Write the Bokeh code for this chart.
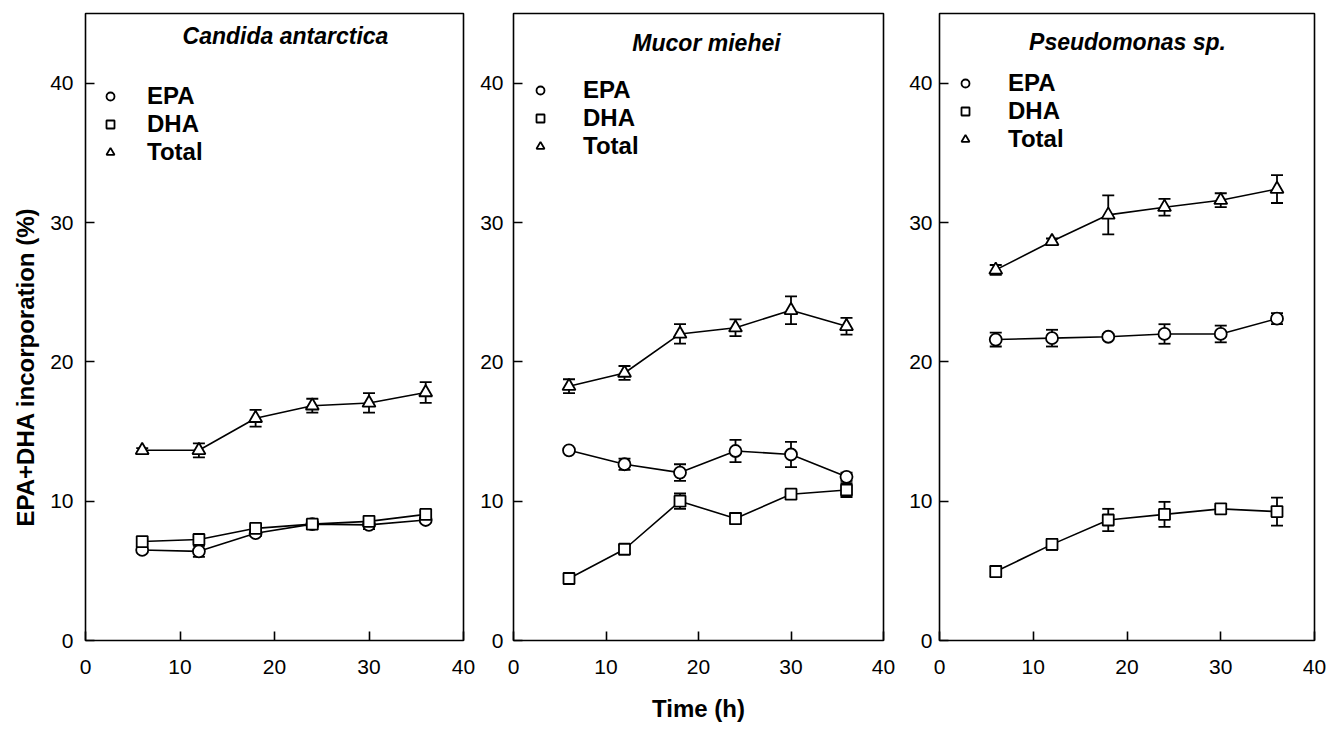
import math
from bokeh.plotting import figure
from bokeh.models import (ColumnDataSource, Whisker, TeeHead, Legend, LegendItem,
                          Label, FixedTicker, Range1d, Title)
from bokeh.layouts import row
from bokeh.embed import file_html
from bokeh.resources import INLINE

# ---------------- data ----------------
time_h = [6, 12, 18, 24, 30, 36]
panel_titles = ["Candida antarctica", "Mucor miehei", "Pseudomonas sp."]
series_names = ["EPA", "DHA", "Total"]
tick_values = [0, 10, 20, 30, 40]
x_label = "Time (h)"
y_label = "EPA+DHA incorporation (%)"

# Candida antarctica
ca_epa = [6.5, 6.4, 7.7, 8.35, 8.3, 8.65]
ca_epa_err = [0.15, 0.4, 0.2, 0.15, 0.3, 0.15]
ca_dha = [7.1, 7.25, 8.05, 8.35, 8.55, 9.05]
ca_dha_err = [0.15, 0.2, 0.15, 0.15, 0.2, 0.2]
ca_tot = [13.65, 13.65, 15.95, 16.85, 17.05, 17.8]
ca_tot_err = [0.15, 0.5, 0.6, 0.5, 0.7, 0.75]

# Mucor miehei
mm_epa = [13.65, 12.65, 12.05, 13.6, 13.35, 11.75]
mm_epa_err = [0.15, 0.4, 0.6, 0.8, 0.9, 0.3]
mm_dha = [4.45, 6.55, 10.0, 8.75, 10.5, 10.8]
mm_dha_err = [0.35, 0.3, 0.55, 0.4, 0.2, 0.5]
mm_tot = [18.25, 19.2, 22.0, 22.45, 23.7, 22.55]
mm_tot_err = [0.5, 0.5, 0.7, 0.6, 1.0, 0.6]

# Pseudomonas sp.
ps_epa = [21.6, 21.7, 21.8, 22.0, 22.0, 23.1]
ps_epa_err = [0.5, 0.6, 0.2, 0.7, 0.6, 0.4]
ps_dha = [4.95, 6.9, 8.65, 9.05, 9.45, 9.25]
ps_dha_err = [0.4, 0.4, 0.8, 0.9, 0.2, 1.0]
ps_tot = [26.6, 28.65, 30.55, 31.1, 31.6, 32.4]
ps_tot_err = [0.35, 0.2, 1.4, 0.6, 0.5, 1.0]

panel_data = [
    [(ca_epa, ca_epa_err), (ca_dha, ca_dha_err), (ca_tot, ca_tot_err)],
    [(mm_epa, mm_epa_err), (mm_dha, mm_dha_err), (mm_tot, mm_tot_err)],
    [(ps_epa, ps_epa_err), (ps_dha, ps_dha_err), (ps_tot, ps_tot_err)],
]

# ---------------- styling / layout ----------------
FONT = "Liberation Sans"
markers = ["circle", "square", "triangle"]
marker_sizes = [12, 11, 13]
TOP, FRAME_H, BOTTOM = 13, 627, 90

layout_cfg = [
    dict(left=85, frame_w=378, right=13, ystand=12,
         title_x=200, title_y=605, leg_x=15, leg_stand=27, leg_top=69),
    dict(left=37, frame_w=370, right=17, ystand=10,
         title_x=193, title_y=598, leg_x=17, leg_stand=33, leg_top=63),
    dict(left=39, frame_w=375, right=16, ystand=7,
         title_x=188, title_y=599, leg_x=16, leg_stand=33, leg_top=56),
]

figs = []
for i, (title, cfg, series) in enumerate(zip(panel_titles, layout_cfg, panel_data)):
    w = cfg["left"] + cfg["frame_w"] + cfg["right"]
    h = TOP + FRAME_H + BOTTOM
    p = figure(width=w, height=h, title=None, toolbar_location=None,
               output_backend="svg", x_range=Range1d(0, 40), y_range=Range1d(0, 45),
               min_border_left=cfg["left"], min_border_right=cfg["right"],
               min_border_top=TOP, min_border_bottom=BOTTOM)
    p.grid.visible = False
    p.outline_line_color = "black"
    p.outline_line_width = 1.6
    p.background_fill_color = "white"
    p.border_fill_color = "white"
    for ax in (p.xaxis[0], p.yaxis[0]):
        ax.ticker = FixedTicker(ticks=tick_values)
        ax.axis_line_color = None
        ax.major_tick_in = 9
        ax.major_tick_out = 0
        ax.minor_tick_line_color = None
        ax.major_tick_line_color = "black"
        ax.major_tick_line_width = 1.6
        ax.major_label_text_font = FONT
        ax.major_label_text_font_size = "21px"
        ax.major_label_text_color = "black"
    p.xaxis.major_label_standoff = 19
    p.yaxis.major_label_standoff = cfg["ystand"]

    items = []
    for j, ((vals, errs), name) in enumerate(zip(series, series_names)):
        src = ColumnDataSource(dict(
            x=time_h, y=vals,
            upper=[v + e for v, e in zip(vals, errs)],
            lower=[v - e for v, e in zip(vals, errs)]))
        p.line("x", "y", source=src, line_color="black", line_width=1.6)
        wk = Whisker(base="x", upper="upper", lower="lower", source=src,
                     line_color="black", line_width=1.8, level="underlay",
                     upper_head=TeeHead(size=12, line_color="black", line_width=1.8),
                     lower_head=TeeHead(size=12, line_color="black", line_width=1.8))
        p.add_layout(wk)
        r = p.scatter("x", "y", source=src, marker=markers[j], size=marker_sizes[j],
                      fill_color="white", line_color="black", line_width=1.8)
        items.append(LegendItem(label=name, renderers=[r]))

    leg_h = 3 * 28
    leg = Legend(items=items, location=(cfg["leg_x"], FRAME_H - cfg["leg_top"] - leg_h),
                 glyph_width=20, glyph_height=28, label_height=28, spacing=0,
                 padding=0, margin=0, label_standoff=cfg["leg_stand"],
                 border_line_color=None, background_fill_alpha=0,
                 label_text_font=FONT, label_text_font_size="24px",
                 label_text_font_style="bold", label_text_color="black")
    p.add_layout(leg)

    p.add_layout(Label(x=cfg["title_x"], y=cfg["title_y"], x_units="screen", y_units="screen",
                       text=title, text_align="center", text_baseline="middle",
                       text_font=FONT, text_font_size="23px",
                       text_font_style="bold italic", text_color="black"))
    figs.append(p)

# y axis label (left of first panel), placed lower than centre like the original
figs[0].add_layout(Title(text=y_label, align="left", offset=114, standoff=18,
                         text_font=FONT, text_font_size="24px", text_font_style="bold",
                         text_color="black"), "left")

# shared x-axis label under the middle panel
xa = figs[1].xaxis[0]
xa.axis_label = x_label
xa.axis_label_standoff = 18
xa.axis_label_text_font = FONT
xa.axis_label_text_font_size = "24px"
xa.axis_label_text_font_style = "bold"
xa.axis_label_text_color = "black"

layout = row(*figs)
open("out.html", "w").write(file_html(layout, INLINE))
